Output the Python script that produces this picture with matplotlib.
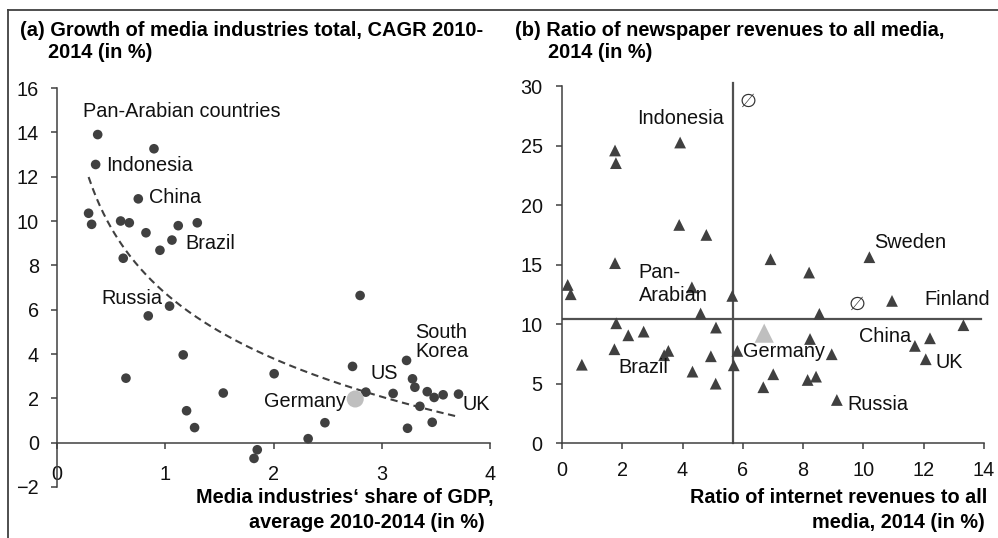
import numpy as np
import matplotlib
matplotlib.use('Agg')
import matplotlib.pyplot as plt
from matplotlib.lines import Line2D

plt.rcParams['font.family'] = ['Liberation Sans', 'DejaVu Sans']
plt.rcParams['font.size'] = 14.3

DARK = '#404040'
LIGHT = '#bfbfbf'

# (a) media industries' share of GDP (x) vs. growth CAGR 2010-2014 (y)
gdp_share = [0.376, 0.896, 0.357, 0.751, 0.292, 0.32, 0.588, 0.668, 0.822, 1.12,
             1.296, 1.062, 0.951, 0.612, 2.80, 1.04, 0.843, 1.166, 0.637, 2.006,
             1.536, 1.197, 1.271, 1.85, 1.82, 2.32, 2.475, 2.73, 2.853, 3.105,
             3.229, 3.284, 3.306, 3.42, 3.484, 3.567, 3.709, 3.352, 3.466, 3.238]
cagr = [13.9, 13.26, 12.55, 11.0, 10.35, 9.85, 10.0, 9.92, 9.47, 9.79,
        9.92, 9.14, 8.68, 8.32, 6.64, 6.16, 5.72, 3.96, 2.91, 3.11,
        2.24, 1.44, 0.68, -0.32, -0.71, 0.18, 0.9, 3.44, 2.28, 2.22,
        3.71, 2.88, 2.5, 2.3, 2.04, 2.16, 2.19, 1.64, 0.92, 0.65]
germany_a = (2.755, 1.97)

# (b) internet revenue ratio (x) vs. newspaper revenue ratio (y)
internet = [1.76, 1.79, 3.92, 3.89, 4.79, 6.92, 10.2, 1.76, 8.2, 0.19,
            0.29, 4.31, 5.65, 4.6, 8.54, 10.95, 13.32, 1.80, 5.11, 2.2,
            2.71, 8.23, 12.21, 11.71, 12.07, 8.95, 5.82, 1.74, 3.53, 3.39,
            4.94, 0.66, 5.7, 4.33, 5.1, 7.01, 6.68, 8.15, 8.43, 9.12]
newspaper = [24.59, 23.53, 25.26, 18.34, 17.5, 15.46, 15.63, 15.13, 14.34, 13.3,
             12.52, 13.1, 12.38, 10.9, 10.87, 11.96, 9.92, 10.08, 9.72, 9.07,
             9.38, 8.76, 8.82, 8.18, 7.06, 7.48, 7.76, 7.9, 7.76, 7.4,
             7.31, 6.6, 6.55, 6.02, 5.01, 5.8, 4.71, 5.32, 5.6, 3.64]
germany_b = (6.71, 9.25)
avg_internet = 5.68
avg_newspaper = 10.42

labels_a = [("Pan-Arabian countries", 0.237, 14.95), ("Indonesia", 0.45, 12.5),
            ("China", 0.852, 11.07), ("Brazil", 1.19, 8.97), ("Russia", 0.41, 6.52),
            ("South", 3.31, 4.97), ("Korea", 3.31, 4.13), ("US", 2.896, 3.1),
            ("Germany", 1.911, 1.84), ("UK", 3.746, 1.74)]
labels_b = [("Indonesia", 2.5, 27.3), ("Sweden", 10.35, 16.9), ("Pan-", 2.55, 14.33),
            ("Arabian", 2.55, 12.38), ("Finland", 12.01, 12.05), ("China", 9.85, 9.0),
            ("Germany", 6.02, 7.7), ("Brazil", 1.88, 6.38), ("UK", 12.4, 6.78),
            ("Russia", 9.48, 3.27)]
avg_marks = [(6.18, 28.7), (9.8, 11.68)]

fig = plt.figure(figsize=(9.98, 5.38), dpi=100)

# outer frame lines (top and left)
fig.add_artist(Line2D([0.008, 1.0], [0.9814, 0.9814], color=DARK, lw=1.3))
fig.add_artist(Line2D([0.008, 0.008], [0.0, 0.9814], color=DARK, lw=1.3))


def style_axes(ax):
    for s in ('top', 'right'):
        ax.spines[s].set_visible(False)
    for s in ('left', 'bottom'):
        ax.spines[s].set_color(DARK)
        ax.spines[s].set_linewidth(1.1)
    ax.tick_params(direction='out', length=4, width=1.1, color=DARK, labelcolor='#111111')
    ax.patch.set_alpha(0)


# ---- panel (a)
ax1 = fig.add_axes([0.0571, 0.0948, 0.4339, 0.7416])
style_axes(ax1)
ax1.set_xlim(0, 4)
ax1.set_ylim(-2, 16)
ax1.spines['bottom'].set_position(('data', 0))
ax1.set_xticks([0, 1, 2, 3, 4])
ax1.set_yticks(range(-2, 17, 2))
ax1.tick_params(axis='x', pad=12)
ax1.tick_params(axis='y', pad=9)

ax1.scatter(gdp_share, cagr, s=48, color=DARK, edgecolors='none', zorder=3)

# logarithmic trend over the data range
coef = np.polyfit(np.log(gdp_share), cagr, 1)
xs = np.linspace(min(gdp_share), max(gdp_share), 200)
ax1.plot(xs, coef[0] * np.log(xs) + coef[1], color=DARK, lw=1.5,
         dashes=(3.5, 2.2), zorder=4)
ax1.scatter([germany_a[0]], [germany_a[1]], s=150, color=LIGHT, edgecolors='none', zorder=5)

for txt, x, y in labels_a:
    ax1.text(x, y, txt, ha='left', va='center', color='#111111')

fig.text(0.020, 0.944, "(a) Growth of media industries total, CAGR 2010-",
         fontweight='bold', fontsize=14.4, va='center', ha='left')
fig.text(0.048, 0.902, "2014 (in %)", fontweight='bold', fontsize=14.4,
         va='center', ha='left')
fig.text(0.494, 0.075, "Media industries\u2018 share of GDP,", fontweight='bold',
         va='center', ha='right')
fig.text(0.486, 0.028, "average 2010-2014 (in %)", fontweight='bold',
         va='center', ha='right')

# ---- panel (b)
ax2 = fig.add_axes([0.5631, 0.176, 0.4228, 0.664])
style_axes(ax2)
ax2.set_xlim(0, 14)
ax2.set_ylim(0, 30)
ax2.set_xticks(range(0, 15, 2))
ax2.set_yticks(range(0, 31, 5))
ax2.tick_params(axis='x', pad=9)
ax2.tick_params(axis='y', pad=10)

ax2.plot([avg_internet, avg_internet], [0, 30.3], color='#505050', lw=1.6, zorder=2,
         clip_on=False)
ax2.plot([0, 13.9], [avg_newspaper, avg_newspaper], color='#505050', lw=1.6, zorder=2)
ax2.scatter(internet, newspaper, s=72, marker='^', color=DARK, edgecolors='none', zorder=3)
ax2.scatter([germany_b[0]], [germany_b[1]], s=190, marker='^', color=LIGHT,
            edgecolors='none', zorder=4)

for txt, x, y in labels_b:
    ax2.text(x, y, txt, ha='left', va='center', color='#111111')
for x, y in avg_marks:
    ax2.text(x, y, "\u2205", ha='center', va='center', color='#333333', fontsize=14,
             family='DejaVu Sans')

fig.text(0.516, 0.944, "(b) Ratio of newspaper revenues to all media,",
         fontweight='bold', fontsize=14.4, va='center', ha='left')
fig.text(0.549, 0.902, "2014 (in %)", fontweight='bold', fontsize=14.4,
         va='center', ha='left')
fig.text(0.989, 0.075, "Ratio of internet revenues to all", fontweight='bold',
         va='center', ha='right')
fig.text(0.987, 0.028, "media, 2014 (in %)", fontweight='bold',
         va='center', ha='right')

fig.savefig('out.png', dpi=100)
